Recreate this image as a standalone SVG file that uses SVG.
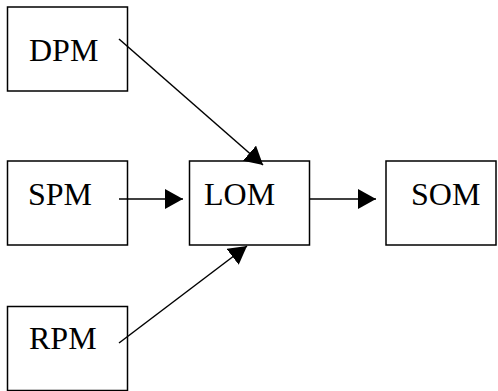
<svg xmlns="http://www.w3.org/2000/svg" width="498" height="391" viewBox="0 0 498 391">
<defs>
<marker id="ah" markerUnits="userSpaceOnUse" markerWidth="18" markerHeight="20" refX="18" refY="10" orient="auto">
<path d="M0,0 L18,10 L0,20 z" fill="#000"/>
</marker>
<style>
.box{fill:#fff;stroke:#000;stroke-width:1.5}
.lbl{font-family:"Liberation Serif","Times New Roman",serif;font-size:32px;fill:#000}
.edge{stroke:#000;stroke-width:1.5;fill:none;marker-end:url(#ah)}
</style>
</defs>
<rect width="498" height="391" fill="#fff"/>
<g id="DPM"><rect class="box" x="7.5" y="7" width="120" height="84"/><text class="lbl" x="29" y="61">DPM</text></g>
<g id="SPM"><rect class="box" x="7.5" y="161" width="120" height="84"/><text class="lbl" x="28" y="205">SPM</text></g>
<g id="LOM"><rect class="box" x="189.5" y="161" width="120" height="84"/><text class="lbl" x="204" y="205">LOM</text></g>
<g id="SOM"><rect class="box" x="386" y="161" width="110" height="84"/><text class="lbl" x="411" y="205">SOM</text></g>
<g id="RPM"><rect class="box" x="7.5" y="306.5" width="120" height="84"/><text class="lbl" x="29" y="349">RPM</text></g>
<g id="connectors">
<line class="edge" x1="119" y1="39" x2="263" y2="165"/>
<line class="edge" x1="119" y1="199" x2="183" y2="199"/>
<line class="edge" x1="119" y1="343" x2="247" y2="246"/>
<line class="edge" x1="310" y1="199" x2="376" y2="199"/>
</g>
</svg>
